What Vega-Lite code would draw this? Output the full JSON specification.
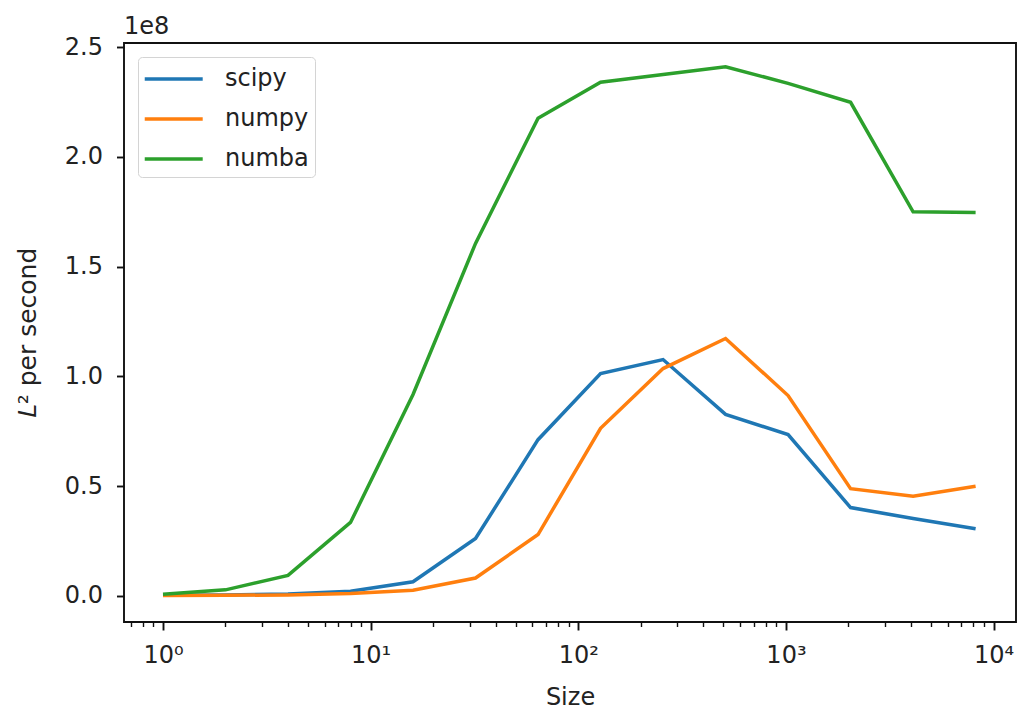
{
  "$schema": "https://vega.github.io/schema/vega-lite/v6.json",
  "width": 892,
  "height": 579,
  "autosize": "none",
  "padding": {"left": 124, "top": 43, "right": 3, "bottom": 91},
  "background": "white",
  "title": {
    "text": "1e8",
    "anchor": "start",
    "frame": "group",
    "orient": "top",
    "offset": -23,
    "fontSize": 24,
    "fontWeight": "normal",
    "font": "DejaVu Sans",
    "color": "#222222",
    "baseline": "alphabetic"
  },
  "config": {
    "font": "DejaVu Sans",
    "view": {"stroke": "#111111", "strokeWidth": 1.9},
    "axis": {
      "grid": false,
      "domain": false,
      "tickColor": "#111111",
      "tickWidth": 1.9,
      "labelFont": "DejaVu Sans",
      "labelFontSize": 24,
      "labelColor": "#222222",
      "titleFont": "DejaVu Sans",
      "titleFontSize": 24,
      "titleFontWeight": "normal",
      "titleColor": "#222222"
    },
    "legend": {
      "labelFont": "DejaVu Sans",
      "labelFontSize": 24,
      "labelColor": "#222222"
    }
  },
  "data": {
    "values": [
      {"size": 1, "lib": "scipy", "rate": 300000},
      {"size": 2, "lib": "scipy", "rate": 450000},
      {"size": 4, "lib": "scipy", "rate": 900000},
      {"size": 8, "lib": "scipy", "rate": 2200000},
      {"size": 16, "lib": "scipy", "rate": 6500000},
      {"size": 32, "lib": "scipy", "rate": 26200000},
      {"size": 64, "lib": "scipy", "rate": 71200000},
      {"size": 128, "lib": "scipy", "rate": 101300000},
      {"size": 256, "lib": "scipy", "rate": 107700000},
      {"size": 512, "lib": "scipy", "rate": 82700000},
      {"size": 1024, "lib": "scipy", "rate": 73500000},
      {"size": 2048, "lib": "scipy", "rate": 40300000},
      {"size": 4096, "lib": "scipy", "rate": 35300000},
      {"size": 8192, "lib": "scipy", "rate": 30600000},
      {"size": 1, "lib": "numpy", "rate": 200000},
      {"size": 2, "lib": "numpy", "rate": 300000},
      {"size": 4, "lib": "numpy", "rate": 500000},
      {"size": 8, "lib": "numpy", "rate": 1100000},
      {"size": 16, "lib": "numpy", "rate": 2600000},
      {"size": 32, "lib": "numpy", "rate": 8200000},
      {"size": 64, "lib": "numpy", "rate": 28000000},
      {"size": 128, "lib": "numpy", "rate": 76400000},
      {"size": 256, "lib": "numpy", "rate": 103600000},
      {"size": 512, "lib": "numpy", "rate": 117300000},
      {"size": 1024, "lib": "numpy", "rate": 91300000},
      {"size": 2048, "lib": "numpy", "rate": 48900000},
      {"size": 4096, "lib": "numpy", "rate": 45400000},
      {"size": 8192, "lib": "numpy", "rate": 50000000},
      {"size": 1, "lib": "numba", "rate": 800000},
      {"size": 2, "lib": "numba", "rate": 2800000},
      {"size": 4, "lib": "numba", "rate": 9400000},
      {"size": 8, "lib": "numba", "rate": 33500000},
      {"size": 16, "lib": "numba", "rate": 91800000},
      {"size": 32, "lib": "numba", "rate": 160600000},
      {"size": 64, "lib": "numba", "rate": 217600000},
      {"size": 128, "lib": "numba", "rate": 234000000},
      {"size": 256, "lib": "numba", "rate": 237600000},
      {"size": 512, "lib": "numba", "rate": 241100000},
      {"size": 1024, "lib": "numba", "rate": 233500000},
      {"size": 2048, "lib": "numba", "rate": 224900000},
      {"size": 4096, "lib": "numba", "rate": 175000000},
      {"size": 8192, "lib": "numba", "rate": 174700000}
    ]
  },
  "resolve": {"axis": {"x": "independent"}},
  "layer": [
    {
      "mark": {"type": "line", "strokeWidth": 3.5, "clip": true},
      "encoding": {
        "x": {
          "field": "size",
          "type": "quantitative",
          "scale": {"type": "log", "domain": [0.649, 12820], "nice": false},
          "axis": {
            "orient": "bottom",
            "title": "Size",
            "values": [1, 10, 100, 1000, 10000],
            "labelExpr": "datum.value == 1 ? '10⁰' : datum.value == 10 ? '10¹' : datum.value == 100 ? '10²' : datum.value == 1000 ? '10³' : '10⁴'",
            "tickSize": 8,
            "labelPadding": 13,
            "titlePadding": 18
          }
        },
        "y": {
          "field": "rate",
          "type": "quantitative",
          "scale": {"domain": [-11850000, 251900000], "nice": false, "zero": false},
          "axis": {
            "title": "𝐿²  per second",
            "titleFontSize": 25,
            "values": [0, 50000000, 100000000, 150000000, 200000000, 250000000],
            "labelExpr": "format(datum.value / 100000000, '.1f')",
            "tickSize": 7.5,
            "labelPadding": 14,
            "titlePadding": 24
          }
        },
        "color": {
          "field": "lib",
          "type": "nominal",
          "sort": ["scipy", "numpy", "numba"],
          "scale": {"domain": ["scipy", "numpy", "numba"], "range": ["#1f77b4", "#ff7f0e", "#2ca02c"]},
          "legend": {
            "title": null,
            "orient": "none",
            "legendX": 14,
            "legendY": 14,
            "padding": 6,
            "strokeColor": "#d4d4d4",
            "fillColor": "rgba(255,255,255,0.8)",
            "cornerRadius": 4,
            "symbolType": "M-1.09,0H3.05",
            "symbolSize": 784,
            "symbolStrokeWidth": 3.5,
            "labelOffset": 49,
            "rowPadding": 12
          }
        }
      }
    },
    {
      "mark": {"type": "line", "strokeOpacity": 0},
      "encoding": {
        "x": {
          "field": "size",
          "type": "quantitative",
          "axis": {
            "orient": "bottom",
            "title": null,
            "labels": false,
            "tickSize": 4.5,
            "tickWidth": 1.4,
            "values": [0.7, 0.8, 0.9, 2, 3, 4, 5, 6, 7, 8, 9, 20, 30, 40, 50, 60, 70, 80, 90, 200, 300, 400, 500, 600, 700, 800, 900, 2000, 3000, 4000, 5000, 6000, 7000, 8000, 9000]
          }
        },
        "y": {"field": "rate", "type": "quantitative"},
        "detail": {"field": "lib", "type": "nominal"}
      }
    }
  ]
}
